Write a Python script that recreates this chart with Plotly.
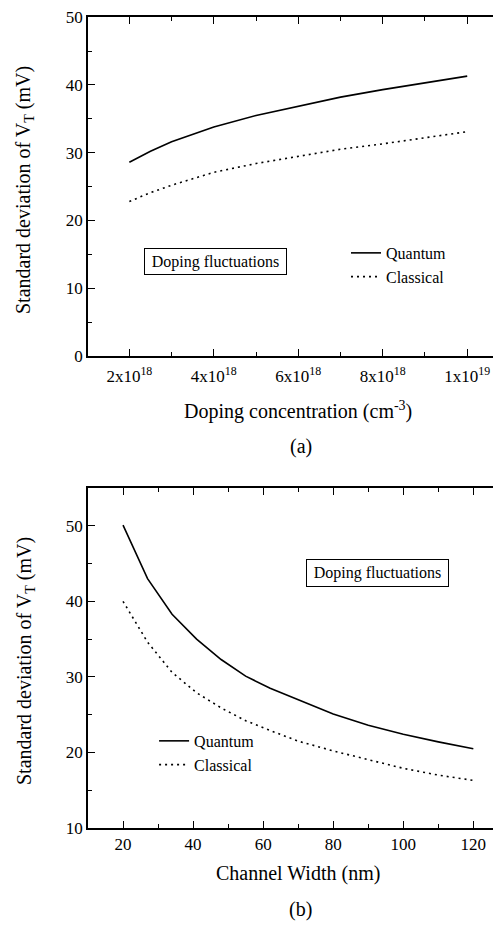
import plotly.graph_objects as go

# Panel (a): doping concentration dependence
doping = [2e18, 2.5e18, 3e18, 4e18, 5e18, 6e18, 7e18, 8e18, 9e18, 1e19]
sigma_quantum_a = [28.6, 30.2, 31.6, 33.8, 35.5, 36.9, 38.2, 39.3, 40.3, 41.3]
sigma_classical_a = [22.8, 24.1, 25.2, 27.1, 28.4, 29.5, 30.5, 31.3, 32.2, 33.1]
xa_tickvals = [2e18, 4e18, 6e18, 8e18, 1e19]
xa_ticktext = ["2x10<sup>18</sup>", "4x10<sup>18</sup>", "6x10<sup>18</sup>",
               "8x10<sup>18</sup>", "1x10<sup>19</sup>"]
ya_tickvals = [0, 10, 20, 30, 40, 50]

# Panel (b): channel width dependence
width_nm = [20, 27, 34, 41, 48, 55, 62, 70, 80, 90, 100, 110, 120]
sigma_quantum_b = [50.1, 43.0, 38.3, 35.0, 32.3, 30.1, 28.5, 27.0, 25.1, 23.6, 22.4, 21.4, 20.5]
sigma_classical_b = [40.0, 34.6, 30.6, 27.9, 25.9, 24.2, 22.9, 21.5, 20.2, 19.0, 17.9, 17.0, 16.3]
xb_tickvals = [20, 40, 60, 80, 100, 120]
yb_tickvals = [10, 20, 30, 40, 50]

FONT = "Liberation Serif, Times New Roman, serif"
DOT = "2px,4px"

fig = go.Figure()
fig.add_trace(go.Scatter(x=doping, y=sigma_quantum_a, mode="lines", name="Quantum",
                         line=dict(color="black", width=1.6), xaxis="x", yaxis="y",
                         legend="legend"))
fig.add_trace(go.Scatter(x=doping, y=sigma_classical_a, mode="lines", name="Classical",
                         line=dict(color="black", width=1.6, dash=DOT), xaxis="x", yaxis="y",
                         legend="legend"))
fig.add_trace(go.Scatter(x=width_nm, y=sigma_quantum_b, mode="lines", name="Quantum",
                         line=dict(color="black", width=1.6), xaxis="x2", yaxis="y2",
                         legend="legend2"))
fig.add_trace(go.Scatter(x=width_nm, y=sigma_classical_b, mode="lines", name="Classical",
                         line=dict(color="black", width=1.6, dash=DOT), xaxis="x2", yaxis="y2",
                         legend="legend2"))

axis_common = dict(showline=True, linecolor="black", linewidth=1.5, ticks="inside",
                   ticklen=7, tickwidth=1.2, tickcolor="black", showgrid=False,
                   zeroline=False, tickfont=dict(family=FONT, size=17, color="black"))
minor_common = dict(ticks="inside", ticklen=4, tickwidth=1, tickcolor="black", showgrid=False)

# the page body adds an 8px margin, so the figure is 8px smaller than the window
fig.update_layout(
    width=493, height=928,
    margin=dict(l=80, r=0, t=9, b=108),
    paper_bgcolor="white", plot_bgcolor="white",
    font=dict(family=FONT, color="black"),
    xaxis=dict(**axis_common, domain=[0, 1], anchor="y", mirror="ticks",
               range=[1.021e18, 10.8e18], tickvals=xa_tickvals, ticktext=xa_ticktext,
               ticklabelstandoff=4,
               minor=dict(**minor_common, tickvals=[3e18, 5e18, 7e18, 9e18])),
    yaxis=dict(**axis_common, domain=[0.582, 1], anchor="x", range=[0, 50.02],
               tickvals=ya_tickvals,
               minor=dict(**minor_common, dtick=5)),
    xaxis2=dict(**axis_common, domain=[0, 1], anchor="y2", mirror="ticks",
                range=[10, 127.9], tickvals=xb_tickvals,
                minor=dict(**minor_common, dtick=10)),
    yaxis2=dict(**axis_common, domain=[0, 0.4192], anchor="x2", range=[10, 55],
                tickvals=yb_tickvals,
                minor=dict(**minor_common, dtick=5)),
    legend=dict(x=0.6247, y=0.7300, xanchor="left", yanchor="top",
                bgcolor="rgba(0,0,0,0)", font=dict(family=FONT, size=16, color="black"),
                tracegroupgap=0),
    legend2=dict(x=0.16, y=0.1283, xanchor="left", yanchor="top",
                 bgcolor="rgba(0,0,0,0)", font=dict(family=FONT, size=16, color="black"),
                 tracegroupgap=0),
)

ann_font = dict(family=FONT, size=20, color="black")
annotations = [
    # axis titles
    dict(text="Doping concentration (cm<sup>-3</sup>)", x=0.5085, y=0.5154,
         xref="paper", yref="paper", showarrow=False, font=ann_font,
         xanchor="center", yanchor="middle"),
    dict(text="Standard deviation of V<sub>T</sub> (mV)", x=-0.1525, y=0.7867,
         xref="paper", yref="paper", showarrow=False, font=ann_font, textangle=-90,
         xanchor="center", yanchor="middle"),
    dict(text="Channel Width (nm)", x=0.5085, y=-0.0555,
         xref="paper", yref="paper", showarrow=False, font=ann_font,
         xanchor="center", yanchor="middle"),
    dict(text="Standard deviation of V<sub>T</sub> (mV)", x=-0.1525, y=0.2059,
         xref="paper", yref="paper", showarrow=False, font=ann_font, textangle=-90,
         xanchor="center", yanchor="middle"),
    # panel captions
    dict(text="(a)", x=0.5157, y=0.4698, xref="paper", yref="paper", showarrow=False,
         font=ann_font, xanchor="center", yanchor="middle"),
    dict(text="(b)", x=0.5157, y=-0.1011, xref="paper", yref="paper", showarrow=False,
         font=ann_font, xanchor="center", yanchor="middle"),
    # boxed labels
    dict(text="Doping fluctuations", x=0.3087, y=0.6985, xref="paper", yref="paper",
         showarrow=False, font=dict(family=FONT, size=16, color="black"),
         bordercolor="black", borderwidth=1, borderpad=0, width=141, height=25,
         xanchor="center", yanchor="middle", bgcolor="white"),
    dict(text="Doping fluctuations", x=0.701, y=0.3144, xref="paper", yref="paper",
         showarrow=False, font=dict(family=FONT, size=16, color="black"),
         bordercolor="black", borderwidth=1, borderpad=0, width=141, height=26,
         xanchor="center", yanchor="middle", bgcolor="white"),
]
fig.update_layout(annotations=annotations)

fig.write_html("out.html")
